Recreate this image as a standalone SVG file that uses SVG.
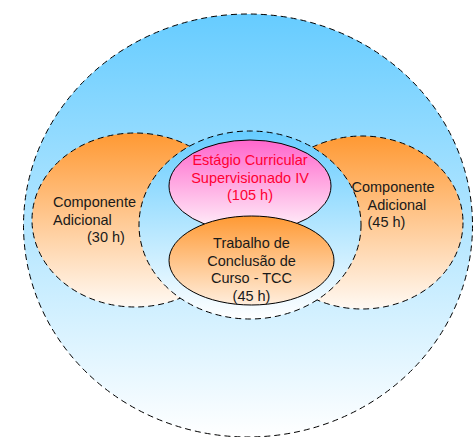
<svg xmlns="http://www.w3.org/2000/svg" width="473" height="437" viewBox="0 0 473 437">
<defs>
<linearGradient id="gBlue" x1="0" y1="0" x2="0" y2="1">
<stop offset="0" stop-color="#66ccff"/>
<stop offset="1" stop-color="#ffffff"/>
</linearGradient>
<linearGradient id="gOrange" x1="0" y1="0" x2="0" y2="1">
<stop offset="0" stop-color="#ff9933"/>
<stop offset="1" stop-color="#fff9f3"/>
</linearGradient>
<linearGradient id="gTcc" x1="0" y1="0" x2="0" y2="1">
<stop offset="0" stop-color="#ff9933"/>
<stop offset="1" stop-color="#ffeedd"/>
</linearGradient>
<linearGradient id="gPink" x1="0" y1="0" x2="0" y2="1">
<stop offset="0" stop-color="#ff66cc"/>
<stop offset="1" stop-color="#fff4fb"/>
</linearGradient>
</defs>
<style>
.dash{stroke:#000;stroke-width:1;stroke-dasharray:6 4;}
.solid{stroke:#000;stroke-width:1;}
text{font-family:"Liberation Sans",Arial,sans-serif;font-size:14.5px;fill:#1a1a1a;}
.red{fill:#ff0033;}
.c{text-anchor:middle;}
</style>
<g id="outer">
<ellipse cx="248" cy="225.5" rx="224.5" ry="211.5" fill="url(#gBlue)" class="dash"/>
</g>
<g id="left">
<ellipse cx="135" cy="220" rx="103" ry="87" fill="url(#gOrange)" class="dash"/>
<text x="53" y="207">Componente</text>
<text x="53" y="224.5">Adicional</text>
<text x="87" y="242">(30 h)</text>
</g>
<g id="right">
<ellipse cx="362" cy="222.5" rx="101" ry="86.5" fill="url(#gOrange)" class="dash"/>
<text x="351.5" y="192">Componente</text>
<text x="367.5" y="209.5">Adicional</text>
<text x="367.5" y="227">(45 h)</text>
</g>
<g id="middle">
<ellipse cx="250" cy="225" rx="111" ry="94" fill="url(#gBlue)" class="dash"/>
</g>
<g id="estagio">
<ellipse cx="250" cy="186" rx="81" ry="46" fill="url(#gPink)" class="solid"/>
<text class="red c" x="250" y="165">Estágio Curricular</text>
<text class="red c" x="250" y="182.5">Supervisionado IV</text>
<text class="red c" x="250" y="200">(105 h)</text>
</g>
<g id="tcc">
<ellipse cx="251.5" cy="260.5" rx="82.5" ry="44.5" fill="url(#gTcc)" class="solid"/>
<text class="c" x="251.5" y="248">Trabalho de</text>
<text class="c" x="251.5" y="265.5">Conclusão de</text>
<text class="c" x="251.5" y="283">Curso - TCC</text>
<text class="c" x="251.5" y="300.5">(45 h)</text>
</g>
<g id="connectors"/>
</svg>
